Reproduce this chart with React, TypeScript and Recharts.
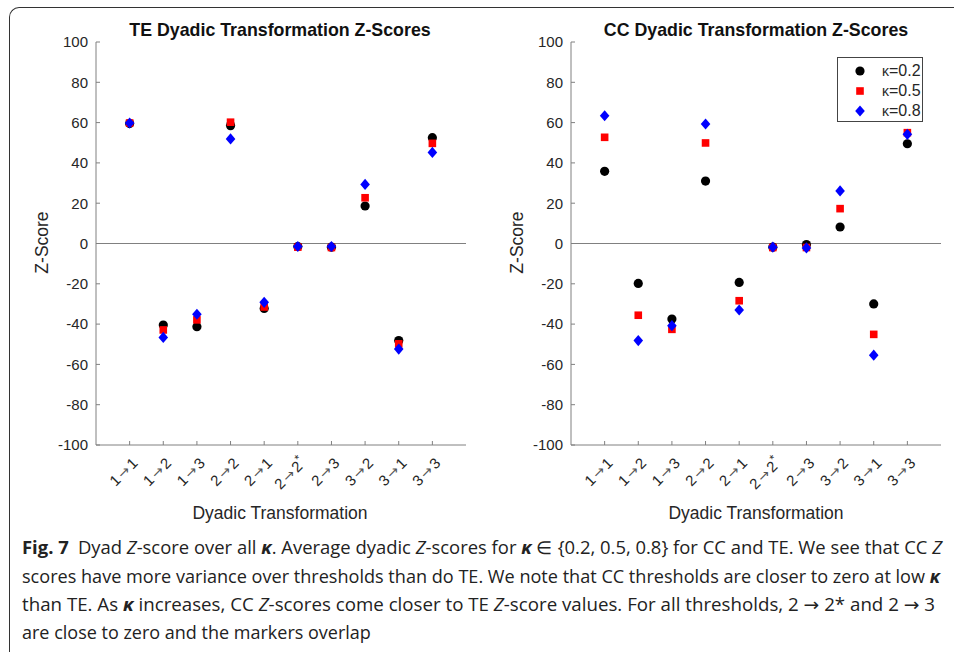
import React from 'react';
import {
  ScatterChart,
  Scatter,
  XAxis,
  YAxis,
  ReferenceLine,
  Legend,
} from 'recharts';

// Dyadic transformations along the x axis (positions 1..10)
const CATEGORIES = ['1→1', '1→2', '1→3', '2→2', '2→1', '2→2*', '2→3', '3→2', '3→1', '3→3'];
const Y_TICKS = [-100, -80, -60, -40, -20, 0, 20, 40, 60, 80, 100];
const KAPPAS = ['0.2', '0.5', '0.8'];

// TE average dyadic Z-scores per threshold
const TE_K02 = [59.5, -40.5, -41.3, 58.5, -32.2, -1.5, -1.8, 18.6, -48.2, 52.5];
const TE_K05 = [59.8, -42.9, -37.9, 60.2, -31.5, -1.8, -2.0, 22.7, -49.8, 49.7];
const TE_K08 = [59.8, -46.6, -35.1, 51.9, -29.2, -1.5, -1.5, 29.3, -52.4, 45.2];

// CC average dyadic Z-scores per threshold
const CC_K02 = [35.8, -19.8, -37.5, 31.0, -19.3, -1.8, -0.5, 8.2, -30.0, 49.5];
const CC_K05 = [52.7, -35.6, -42.6, 49.9, -28.4, -2.0, -2.0, 17.3, -45.1, 55.0];
const CC_K08 = [63.4, -48.2, -40.8, 59.3, -33.0, -1.8, -2.2, 26.1, -55.4, 54.2];

const AXIS = '#808080';
const INK = '#262626';
const FONT = '"Liberation Sans", Arial, sans-serif';
const ARROW_FONT = '"DejaVu Sans", sans-serif';

const toPoints = (vals: number[]) => vals.map((v, i) => ({ x: i + 1, y: v }));

const Dot = ({ cx, cy }: any) => <circle cx={cx} cy={cy} r={4.6} fill="#000" />;
const Square = ({ cx, cy }: any) => <rect x={cx - 3.8} y={cy - 3.8} width={7.6} height={7.6} fill="#ff0000" />;
const Diamond = ({ cx, cy }: any) => (
  <polygon points={`${cx},${cy - 5.6} ${cx + 4.8},${cy} ${cx},${cy + 5.6} ${cx - 4.8},${cy}`} fill="#0000ff" />
);

const YTick = ({ x, y, payload }: any) => (
  <g>
    <line x1={x} x2={x + 4} y1={y} y2={y} stroke={AXIS} />
    <text x={x - 8} y={y} dy={5.3} textAnchor="end" fontSize={15} fill={INK} fontFamily={FONT}>
      {payload.value}
    </text>
  </g>
);

// rotated "a → b" label, arrow drawn in a wider font like a TeX \rightarrow
const XTick = ({ x, y, payload }: any) => {
  const label: string = CATEGORIES[payload.value - 1] ?? '';
  const [from, rest] = label.split('→');
  const star = rest.endsWith('*');
  const to = star ? rest.slice(0, -1) : rest;
  const ax = x + 9;
  const ay = y + 19;
  return (
    <g>
      <line x1={x} x2={x} y1={y} y2={y - 4} stroke={AXIS} />
      <text
        x={ax}
        y={ay}
        transform={`rotate(-45 ${ax} ${ay})`}
        textAnchor="end"
        fontSize={15}
        fill={INK}
        fontFamily={FONT}
      >
        {from}
        <tspan fontFamily={ARROW_FONT} fontSize={14} fill="#555" dx={2}>
          →
        </tspan>
        <tspan dx={2}>{to}</tspan>
        {star && (
          <tspan dy={-6} fontSize={12}>
            *
          </tspan>
        )}
      </text>
    </g>
  );
};

const KappaLegend = () => (
  <div
    style={{
      border: '1px solid #444',
      background: '#fff',
      width: 86,
      height: 65,
      boxSizing: 'border-box',
      position: 'relative',
      fontFamily: FONT,
      fontSize: 16,
      color: INK,
    }}
  >
    {KAPPAS.map((k, i) => (
      <div key={k} style={{ position: 'absolute', left: 0, top: 3 + i * 20, height: 20, width: '100%' }}>
        <svg width={20} height={20} style={{ position: 'absolute', left: 12, top: 0 }}>
          {i === 0 && <Dot cx={10} cy={10} />}
          {i === 1 && <Square cx={10} cy={10} />}
          {i === 2 && <Diamond cx={10} cy={10} />}
        </svg>
        <span style={{ position: 'absolute', left: 44, top: 1, lineHeight: '18px' }}>
          <span style={{ fontSize: 14 }}>κ</span>={k}
        </span>
      </div>
    ))}
  </div>
);

interface PanelProps {
  k02: number[];
  k05: number[];
  k08: number[];
  legend?: boolean;
}

function Panel({ k02, k05, k08, legend }: PanelProps) {
  return (
    <ScatterChart width={480} height={530} margin={{ top: 42, right: 14, left: 36, bottom: 25 }}>
      <XAxis
        type="number"
        dataKey="x"
        domain={[0, 11]}
        ticks={[1, 2, 3, 4, 5, 6, 7, 8, 9, 10]}
        interval={0}
        height={60}
        tickSize={0}
        tickMargin={0}
        tick={<XTick />}
        tickLine={false}
        axisLine={{ stroke: AXIS }}
      />
      <YAxis
        type="number"
        dataKey="y"
        domain={[-100, 100]}
        ticks={Y_TICKS}
        interval={0}
        width={60}
        tickSize={0}
        tickMargin={0}
        tick={<YTick />}
        tickLine={false}
        axisLine={{ stroke: AXIS }}
      />
      <ReferenceLine y={0} stroke={AXIS} strokeWidth={1} />
      <Scatter data={toPoints(k02)} shape={<Dot />} isAnimationActive={false} />
      <Scatter data={toPoints(k05)} shape={<Square />} isAnimationActive={false} />
      <Scatter data={toPoints(k08)} shape={<Diamond />} isAnimationActive={false} />
      {legend && (
        <Legend
          layout="vertical"
          align="center"
          verticalAlign="middle"
          content={<KappaLegend />}
          wrapperStyle={{ top: 57, left: 362, width: 86, height: 65 }}
        />
      )}
    </ScatterChart>
  );
}

const titleStyle: React.CSSProperties = {
  position: 'absolute',
  top: 20,
  width: 400,
  textAlign: 'center',
  fontFamily: FONT,
  fontWeight: 'bold',
  fontSize: 17.8,
  color: '#111',
  whiteSpace: 'nowrap',
};

const axisLabelStyle: React.CSSProperties = {
  position: 'absolute',
  fontFamily: FONT,
  fontSize: 17.5,
  color: INK,
  whiteSpace: 'nowrap',
  textAlign: 'center',
};

// caption segments: [text, style] where b = bold, i = italic, k = italic bold kappa, a = arrow
type Seg = [string, string];
const CAPTION: { y: number; w?: number; segs: Seg[] }[] = [
  {
    y: 554,
    w: 920,
    segs: [
      ['Fig. 7', 'b'],
      ['\u2002Dyad ', ''],
      ['Z', 'i'],
      ['-score over all ', ''],
      ['κ', 'k'],
      ['. Average dyadic ', ''],
      ['Z', 'i'],
      ['-scores for ', ''],
      ['κ', 'k'],
      [' ∈ {0.2, 0.5, 0.8} for CC and TE. We see that CC ', ''],
      ['Z', 'i'],
    ],
  },
  {
    y: 583,
    w: 918,
    segs: [
      ['scores have more variance over thresholds than do TE. We note that CC thresholds are closer to zero at low ', ''],
      ['κ', 'k'],
    ],
  },
  {
    y: 611,
    w: 913,
    segs: [
      ['than TE. As ', ''],
      ['κ', 'k'],
      [' increases, CC ', ''],
      ['Z', 'i'],
      ['-scores come closer to TE ', ''],
      ['Z', 'i'],
      ['-score values. For all thresholds, 2 ', ''],
      ['→', 'a'],
      [' 2* and 2 ', ''],
      ['→', 'a'],
      [' 3', ''],
    ],
  },
  {
    y: 639,
    segs: [['are close to zero and the markers overlap', '']],
  },
];

export default function App() {
  return (
    <div
      style={{
        position: 'absolute',
        left: 0,
        top: 0,
        width: 954,
        height: 652,
        overflow: 'hidden',
        background: '#fff',
      }}
    >
      {/* figure frame */}
      <div
        style={{
          position: 'absolute',
          left: 9,
          top: 7,
          width: 1000,
          height: 700,
          borderTop: '1.5px solid #333',
          borderLeft: '1.5px solid #333',
          borderTopLeftRadius: 10,
        }}
      />

      <div style={{ position: 'absolute', left: 0, top: 0 }}>
        <Panel k02={TE_K02} k05={TE_K05} k08={TE_K08} />
      </div>
      <div style={{ position: 'absolute', left: 475, top: 0 }}>
        <Panel k02={CC_K02} k05={CC_K05} k08={CC_K08} legend />
      </div>

      <div style={{ ...titleStyle, left: 280 - 200 }}>TE Dyadic Transformation Z-Scores</div>
      <div style={{ ...titleStyle, left: 756 - 200 }}>CC Dyadic Transformation Z-Scores</div>

      <div style={{ ...axisLabelStyle, left: 280 - 150, width: 300, top: 503 }}>Dyadic Transformation</div>
      <div style={{ ...axisLabelStyle, left: 756 - 150, width: 300, top: 503 }}>Dyadic Transformation</div>

      <div
        style={{
          ...axisLabelStyle,
          left: 42 - 50,
          top: 243 - 11,
          width: 100,
          transform: 'rotate(-90deg)',
        }}
      >
        Z-Score
      </div>
      <div
        style={{
          ...axisLabelStyle,
          left: 517 - 50,
          top: 243 - 11,
          width: 100,
          transform: 'rotate(-90deg)',
        }}
      >
        Z-Score
      </div>

      <svg width={954} height={652} style={{ position: 'absolute', left: 0, top: 0, pointerEvents: 'none' }}>
        {CAPTION.map((line) => (
          <text
            key={line.y}
            x={22}
            y={line.y}
            textLength={line.w}
            lengthAdjust={line.w ? 'spacingAndGlyphs' : undefined}
            fontFamily='"Open Sans", "Noto Sans", sans-serif'
            fontSize={18}
            fill="#222"
          >
            {line.segs.map(([t, s], i) => (
              <tspan
                key={i}
                fontWeight={s === 'b' || s === 'k' ? 'bold' : 'normal'}
                fontStyle={s === 'i' || s === 'k' ? 'italic' : 'normal'}
                fontFamily={s === 'a' ? ARROW_FONT : undefined}
              >
                {t}
              </tspan>
            ))}
          </text>
        ))}
      </svg>
    </div>
  );
}
